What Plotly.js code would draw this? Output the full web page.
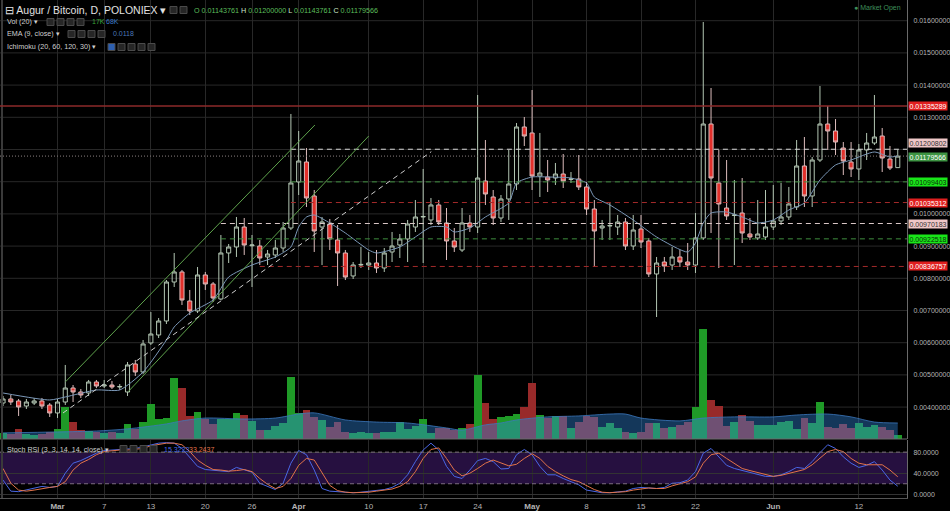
<!DOCTYPE html>
<html><head><meta charset="utf-8">
<script src="https://cdn.plot.ly/plotly-3.0.1.min.js"></script>
<style>html,body{margin:0;padding:0;background:#000;}#chart{width:950px;height:511px;}</style>
</head><body><div id="chart"></div>
<script>
// ---------------- DATA ----------------
const dates = [
'2017-02-22','2017-02-23','2017-02-24','2017-02-25','2017-02-26','2017-02-27','2017-02-28',
'2017-03-01','2017-03-02','2017-03-03','2017-03-04','2017-03-05','2017-03-06','2017-03-07','2017-03-08','2017-03-09','2017-03-10',
'2017-03-11','2017-03-12','2017-03-13','2017-03-14','2017-03-15','2017-03-16','2017-03-17','2017-03-18','2017-03-19','2017-03-20',
'2017-03-21','2017-03-22','2017-03-23','2017-03-24','2017-03-25','2017-03-26','2017-03-27','2017-03-28','2017-03-29','2017-03-30','2017-03-31',
'2017-04-01','2017-04-02','2017-04-03','2017-04-04','2017-04-05','2017-04-06','2017-04-07','2017-04-08','2017-04-09','2017-04-10',
'2017-04-11','2017-04-12','2017-04-13','2017-04-14','2017-04-15','2017-04-16','2017-04-17','2017-04-18','2017-04-19','2017-04-20',
'2017-04-21','2017-04-22','2017-04-23','2017-04-24','2017-04-25','2017-04-26','2017-04-27','2017-04-28','2017-04-29','2017-04-30',
'2017-05-01','2017-05-02','2017-05-03','2017-05-04','2017-05-05','2017-05-06','2017-05-07','2017-05-08','2017-05-09','2017-05-10',
'2017-05-11','2017-05-12','2017-05-13','2017-05-14','2017-05-15','2017-05-16','2017-05-17','2017-05-18','2017-05-19','2017-05-20',
'2017-05-21','2017-05-22','2017-05-23','2017-05-24','2017-05-25','2017-05-26','2017-05-27','2017-05-28','2017-05-29','2017-05-30','2017-05-31',
'2017-06-01','2017-06-02','2017-06-03','2017-06-04','2017-06-05','2017-06-06','2017-06-07','2017-06-08','2017-06-09','2017-06-10',
'2017-06-11','2017-06-12','2017-06-13','2017-06-14','2017-06-15','2017-06-16','2017-06-17'
];
// prices in mBTC (x 0.001 BTC)
const openM = [
4.127,4.252,4.190,4.034,4.127,4.190,4.065,
3.817,4.158,4.593,4.469,4.438,4.780,4.655,4.686,4.624,4.469,
5.339,5.090,5.991,6.239,6.674,7.885,8.196,7.295,6.985,8.103,
7.823,7.357,8.786,8.972,9.593,9.010,9.003,8.662,8.724,8.941,9.562,
10.991,11.612,10.556,9.593,9.686,9.190,8.786,8.072,8.413,8.413,
8.475,8.320,8.817,9.034,9.221,9.593,9.904,9.811,10.277,9.718,
9.159,8.879,9.718,9.593,11.022,10.525,9.873,10.463,10.929,12.699,
12.513,11.177,11.146,11.115,11.239,11.070,11.084,10.836,10.152,9.562,
9.624,9.593,9.749,9.003,9.531,9.159,8.134,8.506,8.413,8.662,
8.506,8.413,9.252,12.792,10.960,10.183,9.950,10.028,9.376,9.252,9.283,
9.593,9.780,9.904,10.214,11.488,10.556,11.674,12.792,12.575,12.047,
11.612,11.395,11.985,12.202,12.419,11.705,11.43761
];
const highM = [
4.345,4.376,4.252,4.252,4.283,4.283,4.127,
4.252,5.308,4.686,4.562,4.842,4.842,4.842,4.811,4.717,5.401,
5.463,6.084,6.954,6.767,7.947,8.786,8.258,7.637,8.351,8.196,
7.885,9.345,9.065,9.904,9.873,9.345,9.190,8.879,9.190,9.749,13.103,
12.575,12.047,10.742,9.904,9.842,9.655,8.879,8.506,8.972,8.817,
8.879,8.941,9.438,9.376,9.811,10.432,11.395,10.494,10.432,10.183,
9.562,10.183,9.966,13.693,12.295,10.742,10.587,11.985,12.823,13.009,
13.848,12.513,11.674,11.581,11.860,11.301,11.829,10.991,10.432,9.811,
10.339,9.966,9.873,9.966,9.966,9.252,8.662,8.662,8.972,8.879,
9.096,10.028,15.960,13.910,11.985,11.674,11.053,11.115,9.873,10.432,10.742,
10.898,10.960,10.836,12.295,12.388,11.767,13.972,13.351,12.947,12.233,
12.233,12.171,12.513,13.693,12.668,12.109,12.000
];
const lowM = [
4.034,4.065,3.724,3.941,4.065,3.941,3.693,
3.662,4.065,4.158,4.283,4.345,4.593,4.593,4.562,4.531,4.345,
4.966,5.028,5.929,6.146,6.581,7.730,7.171,6.860,6.922,7.637,
7.264,7.326,8.475,8.662,8.724,7.730,8.413,8.413,8.631,8.817,9.500,
10.587,10.214,8.817,8.413,8.879,7.761,7.947,7.978,8.320,8.258,
8.165,8.196,8.506,8.631,8.506,9.438,8.475,9.655,9.655,8.568,
8.817,8.817,9.438,9.407,10.277,9.655,9.749,9.811,10.742,12.109,
10.742,10.525,10.680,10.898,10.804,10.960,10.742,9.966,8.351,9.190,
9.190,9.345,8.879,8.879,8.941,8.040,6.798,8.196,8.258,8.351,
8.258,8.165,9.190,9.407,8.320,9.811,8.413,9.096,9.190,9.190,9.190,
9.500,9.655,9.811,10.121,10.214,10.214,11.612,11.985,11.829,11.208,
11.146,11.053,11.674,12.140,11.301,11.363,11.43761
];
const closeM = [
4.252,4.158,4.003,4.158,4.190,4.034,3.817,
4.158,4.593,4.469,4.376,4.780,4.655,4.686,4.624,4.640,5.308,
5.090,5.960,6.270,6.674,7.885,8.196,7.326,6.985,8.103,7.823,
7.388,8.786,8.972,9.593,9.034,9.034,8.631,8.755,8.941,9.562,10.960,
11.643,10.494,9.469,9.749,9.221,8.786,8.040,8.413,8.430,8.475,
8.320,8.786,9.003,9.221,9.686,9.904,9.920,10.277,9.749,9.159,
8.972,9.718,9.593,11.115,10.618,9.873,10.463,10.929,12.699,12.419,
11.177,11.270,11.053,11.239,11.022,11.084,10.836,10.152,9.469,9.624,
9.640,9.749,9.003,9.500,9.127,8.134,8.475,8.382,8.662,8.506,
8.413,9.252,12.792,11.115,10.308,9.935,9.966,9.407,9.283,9.376,9.593,
9.780,9.904,10.308,11.488,10.556,11.674,12.792,12.575,12.233,11.643,
11.395,11.985,12.202,12.388,11.736,11.426,11.79566
];
// volume in thousands
const volumeK = [
26,21,43,21,17,21,30,
43,136,72,38,34,30,26,30,26,64,43,72,149,85,89,259,217,98,115,85,64,85,85,111,102,77,38,38,55,68,264,
111,123,94,81,51,72,30,26,30,26,26,30,30,72,43,55,85,26,47,47,38,47,64,272,153,85,94,98,106,136,
238,102,89,98,98,47,72,98,94,51,68,47,30,26,30,68,68,47,51,60,72,136,468,166,140,55,72,102,77,60,60,
60,72,77,43,89,68,157,51,47,64,47,68,51,60,51,38,17
];
const volMaDates = ['2017-02-22','2017-03-01','2017-03-06','2017-03-10','2017-03-15','2017-03-17','2017-03-20','2017-03-25','2017-03-29','2017-04-01','2017-04-03','2017-04-07','2017-04-11','2017-04-15','2017-04-20','2017-04-22','2017-04-25','2017-04-27','2017-04-29','2017-05-03','2017-05-07','2017-05-11','2017-05-13','2017-05-15','2017-05-20','2017-05-23','2017-05-27','2017-06-01','2017-06-04','2017-06-08','2017-06-11','2017-06-14','2017-06-17'];
const volMaK = [26,30,34,43,64,77,89,85,89,106,111,81,72,68,47,38,60,68,81,94,98,106,106,89,77,89,94,94,102,106,94,72,68];
const emaDates = ['2017-02-22','2017-02-28','2017-03-02','2017-03-06','2017-03-09','2017-03-12','2017-03-15','2017-03-16','2017-03-18','2017-03-21','2017-03-23','2017-03-26','2017-03-29','2017-03-31','2017-04-01','2017-04-02','2017-04-03','2017-04-05','2017-04-07','2017-04-10','2017-04-11','2017-04-14','2017-04-16','2017-04-18','2017-04-20','2017-04-21','2017-04-23','2017-04-25','2017-04-28','2017-04-29','2017-05-01','2017-05-03','2017-05-06','2017-05-08','2017-05-09','2017-05-11','2017-05-14','2017-05-17','2017-05-21','2017-05-22','2017-05-23','2017-05-24','2017-05-26','2017-05-28','2017-05-30','2017-06-01','2017-06-03','2017-06-05','2017-06-07','2017-06-09','2017-06-11','2017-06-14','2017-06-16','2017-06-17'];
const emaM = [4.438,4.221,4.314,4.531,4.531,5.090,6.084,6.488,6.922,7.326,8.040,8.413,8.662,8.972,9.593,9.904,9.966,9.718,9.407,8.879,8.786,8.972,9.283,9.593,9.593,9.438,9.562,9.904,10.339,10.960,11.146,11.146,11.115,10.960,10.525,10.277,9.811,9.283,8.817,9.096,9.718,10.028,10.059,9.904,9.718,9.811,10.121,10.339,11.053,11.519,11.674,11.923,11.767,11.80];
const stochK = [
27,6,5,8,11,15,13,
15,40,59,64,71,78,83,84,84,85,87,90,94,97,98,97,87,71,53,47,46,45,43,51,46,42,21,15,9,21,59,
83,75,46,11,6,5,3,3,4,6,7,9,13,21,37,62,84,97,84,53,34,30,46,64,68,62,48,49,75,85,
75,53,37,37,30,24,18,8,5,3,3,5,6,11,13,12,11,13,21,22,27,43,78,87,71,55,49,45,41,37,34,
34,37,43,51,49,62,79,94,87,71,59,51,55,62,46,27,15.3223
];
const stochD = [
49,21,8,6,8,11,13,
15,24,46,59,66,75,81,83,84,84,85,87,92,95,97,97,94,81,65,55,47,46,44,45,47,43,30,19,11,15,30,
55,68,65,40,17,7,4,3,3,4,6,8,10,15,24,43,68,85,88,68,46,35,40,49,59,65,59,54,57,68,
77,68,53,43,35,28,24,16,9,4,3,4,5,8,10,12,11,11,16,20,24,33,59,75,78,68,59,49,45,41,37,
34,36,40,43,47,56,68,81,85,81,68,59,56,56,56,46,33.2437
];
const levelPrices = [0.01335289, 0.01200802, 0.01099403, 0.01035312, 0.00970183, 0.00922518, 0.00836757];
const levelStarts = [null, '2017-03-31', '2017-03-31', '2017-03-31', '2017-03-22', '2017-03-22', '2017-03-27'];
const currentPrice = 0.01179566;
const trendFrom = [['2017-03-02 01:00', 0.004789], ['2017-03-10 02:00', 0.004478], ['2017-03-01 17:00', 0.003817]];
const trendTo   = [['2017-04-03 02:00', 0.012761], ['2017-04-10 00:00', 0.012419], ['2017-04-18 01:00', 0.011932]];
const tickDates = ['2017-03-01','2017-03-07','2017-03-13','2017-03-20','2017-03-26','2017-04-01','2017-04-10','2017-04-17','2017-04-24','2017-05-01','2017-05-08','2017-05-15','2017-05-22','2017-06-01','2017-06-12'];
const tickLabels = ['<b>Mar</b>','7','13','20','26','<b>Apr</b>','10','17','24','<b>May</b>','8','15','22','<b>Jun</b>','12'];
// price labels visible on the right axis (0.011 and 0.012 are hidden behind tags in the reference)
const priceTicks = [0.004,0.005,0.006,0.007,0.008,0.009,0.010,0.013,0.014,0.015,0.016];
const priceGrid = [0.004,0.005,0.006,0.007,0.008,0.009,0.010,0.011,0.012,0.013,0.014,0.015,0.016];
const rsiTicks = [0,40,80];
const rsiBand = [20,80];

// ---------------- STYLE / LAYOUT ----------------
const toBtc = a => a.map(v => v/1000);
const W = 907, H = 498;
const px = x => x / W;
const py = y => 1 - y / H;
const XSTART = '2017-02-21 14:38', XEND = '2017-06-18 04:30';
const FONT = 'Liberation Sans, Arial, sans-serif';
const UP = '#1f9a27', DOWN = '#982a2a';
const GRID = '#282828';

const traces = [];
traces.push({
  type: 'candlestick', x: dates,
  open: toBtc(openM), high: toBtc(highM), low: toBtc(lowM), close: toBtc(closeM),
  xaxis: 'x', yaxis: 'y',
  increasing: {line: {color: '#b3c6b3', width: 1}, fillcolor: 'rgba(0,0,0,0)'},
  decreasing: {line: {color: '#dcbcbc', width: 1}, fillcolor: '#e2302b'},
  whiskerwidth: 0, showlegend: false, hoverinfo: 'skip'
});
traces.push({
  type: 'scatter', mode: 'lines', x: emaDates, y: toBtc(emaM),
  xaxis: 'x', yaxis: 'y', line: {color: '#7b98b8', width: 1, shape: 'spline', smoothing: 0.6},
  showlegend: false, hoverinfo: 'skip'
});
traces.push({
  type: 'bar', x: dates, y: volumeK, xaxis: 'x', yaxis: 'y3',
  width: 86400000, marker: {color: dates.map((d, i) => closeM[i] >= openM[i] ? UP : DOWN), line: {width: 0}},
  showlegend: false, hoverinfo: 'skip'
});
traces.push({
  type: 'scatter', mode: 'lines', x: volMaDates, y: volMaK, xaxis: 'x', yaxis: 'y3',
  fill: 'tozeroy', fillcolor: 'rgba(50,137,225,0.40)',
  line: {color: 'rgba(60,120,190,0.8)', width: 1, shape: 'spline', smoothing: 0.8},
  showlegend: false, hoverinfo: 'skip'
});
traces.push({
  type: 'scatter', mode: 'lines', x: dates, y: stochK, xaxis: 'x', yaxis: 'y2',
  line: {color: '#4a67e6', width: 1}, showlegend: false, hoverinfo: 'skip'
});
traces.push({
  type: 'scatter', mode: 'lines', x: dates, y: stochD, xaxis: 'x', yaxis: 'y2',
  line: {color: '#e2734a', width: 1}, showlegend: false, hoverinfo: 'skip'
});

const shapes = [];
// price grid lines (drawn as shapes so hidden labels keep their grid)
priceGrid.forEach(v => shapes.push({type: 'line', xref: 'paper', yref: 'y', x0: 0, x1: 1, y0: v, y1: v, line: {color: GRID, width: 1}, layer: 'below'}));
// RSI band
shapes.push({type: 'rect', xref: 'paper', yref: 'y2', x0: 0, x1: 1, y0: rsiBand[0], y1: rsiBand[1], fillcolor: '#261040', line: {width: 0}, layer: 'below'});
rsiBand.forEach(v => shapes.push({type: 'line', xref: 'paper', yref: 'y2', x0: 0, x1: 1, y0: v, y1: v, line: {color: '#7c6c80', width: 1, dash: '4px,3px'}}));
// pane separator + left border
shapes.push({type: 'line', xref: 'paper', yref: 'paper', x0: 0, x1: 1, y0: py(439), y1: py(439), line: {color: '#6a6a6a', width: 1}});
shapes.push({type: 'line', xref: 'paper', yref: 'paper', x0: px(2), x1: px(2), y0: 0, y1: 1, line: {color: '#3a3a3a', width: 2}});
// horizontal levels
const levelStyles = [
  {color: '#8c2a2a', width: 1.5, dash: 'solid'},
  {color: '#d8d8d8', width: 1, dash: '5px,4px'},
  {color: '#3f8f3f', width: 1, dash: '5px,4px'},
  {color: '#a32a2a', width: 1, dash: '5px,4px'},
  {color: '#d8c6c6', width: 1, dash: '5px,4px'},
  {color: '#3f8f3f', width: 1, dash: '5px,4px'},
  {color: '#a32a2a', width: 1, dash: '5px,4px'}
];
levelPrices.forEach((p, i) => {
  if (levelStarts[i] === null) {
    shapes.push({type: 'line', xref: 'paper', yref: 'y', x0: 0, x1: 1, y0: p, y1: p, line: levelStyles[i]});
  } else {
    shapes.push({type: 'line', xref: 'x', yref: 'y', x0: levelStarts[i], x1: XEND, y0: p, y1: p, line: levelStyles[i]});
  }
});
shapes.push({type: 'line', xref: 'paper', yref: 'y', x0: 0, x1: 1, y0: currentPrice, y1: currentPrice, line: {color: '#8a8080', width: 1, dash: '1px,2px'}});
// trend lines
const trendStyles = [
  {color: '#5ea24c', width: 1},
  {color: '#5ea24c', width: 1},
  {color: '#cfcfcf', width: 1, dash: '5px,4px'}
];
trendFrom.forEach((a, i) => shapes.push({type: 'line', xref: 'x', yref: 'y', x0: a[0], y0: a[1], x1: trendTo[i][0], y1: trendTo[i][1], line: trendStyles[i]}));
// header icon boxes
function iconRow(xs, y, first) {
  xs.forEach((x, i) => shapes.push({type: 'rect', xref: 'paper', yref: 'paper', x0: px(x), x1: px(x + 7), y0: py(y + 3.5), y1: py(y - 3.5),
    fillcolor: (first && i === 0) ? '#2d5fb0' : '#262626', line: {color: '#4a4a4a', width: 1}}));
}
iconRow([170, 180], 10, false);
iconRow([47, 57, 67, 77], 22, false);
iconRow([68, 78, 88, 98], 34, false);
iconRow([108, 118, 128, 138, 148], 47, true);
iconRow([120, 130, 140, 150], 449, false);

const annotations = [];
function txt(x, y, text, size, color) {
  annotations.push({xref: 'paper', yref: 'paper', x: px(x), y: py(y), xanchor: 'left', yanchor: 'middle', text: text, showarrow: false, font: {family: FONT, size: size, color: color}});
}
txt(3, 10, '⊟ Augur / Bitcoin, D, POLONIEX ▾', 10.5, '#e2e2e2');
txt(192, 10, 'O 0.01143761 <span style="color:#cfe8cf">H</span> 0.01200000 <span style="color:#cfe8cf">L</span> 0.01143761 <span style="color:#cfe8cf">C</span> 0.01179566', 7.2, '#5cbf5c');
txt(5, 22, 'Vol (20) ▾', 7.2, '#cfcfcf');
txt(90, 22, '17K', 7, '#3aa83a');
txt(104, 22, '68K', 7, '#3a78c8');
txt(5, 34, 'EMA (9, close) ▾', 7.2, '#cfcfcf');
txt(111, 34, '0.0118', 7, '#4a78b8');
txt(5, 47, 'Ichimoku (20, 60, 120, 30) ▾', 7.2, '#cfcfcf');
txt(852, 8, '● Market Open', 7, '#3f8f5a');
txt(5, 449, 'Stoch RSI (3, 3, 14, 14, close) ▾', 7.2, '#cfcfcf');
txt(162, 449, '15.3223', 7, '#4a67e6');
txt(187, 449, '33.2437', 7, '#e2734a');
// right-side level tags
const tagStyles = [
  {bg: '#e01f1f', fg: '#ffffff', shift: 0},
  {bg: '#efc7c7', fg: '#333333', shift: 6},
  {bg: '#19e619', fg: '#0b2e0b', shift: 0},
  {bg: '#e01f1f', fg: '#ffffff', shift: 0},
  {bg: '#efc7c7', fg: '#333333', shift: 0},
  {bg: '#19e619', fg: '#0b2e0b', shift: 0},
  {bg: '#e01f1f', fg: '#ffffff', shift: 0}
];
levelPrices.forEach((p, i) => annotations.push({
  xref: 'paper', yref: 'y', x: px(908), y: p, xanchor: 'left', yanchor: 'middle', yshift: tagStyles[i].shift,
  text: p.toFixed(8), showarrow: false, bgcolor: tagStyles[i].bg, borderpad: 0.5,
  font: {family: FONT, size: 7, color: tagStyles[i].fg}
}));
annotations.push({xref: 'paper', yref: 'y', x: px(908), y: currentPrice, xanchor: 'left', yanchor: 'middle', yshift: -1,
  text: currentPrice.toFixed(8), showarrow: false, bgcolor: '#3d9442', borderpad: 0.5, font: {family: FONT, size: 7, color: '#ffffff'}});

const layout = {
  width: 950, height: 511,
  margin: {l: 0, r: 43, t: 0, b: 13, pad: 0},
  paper_bgcolor: '#000000', plot_bgcolor: '#000000',
  font: {family: FONT, color: '#b4b4b4', size: 7},
  showlegend: false, boxgap: 0.25, bargap: 0,
  xaxis: {type: 'date', range: [XSTART, XEND], domain: [0, 1], anchor: 'y2',
    tickmode: 'array', tickvals: tickDates, ticktext: tickLabels,
    tickfont: {family: FONT, size: 8, color: '#b4b4b4'}, ticks: '',
    showgrid: true, gridcolor: GRID, gridwidth: 1,
    showline: true, linecolor: '#555555', linewidth: 1, zeroline: false,
    rangeslider: {visible: false}, fixedrange: true},
  yaxis: {domain: [py(439), 1], range: [0.003009, 0.016643], side: 'right', anchor: 'x',
    tickmode: 'array', tickvals: priceTicks, tickformat: '.8f',
    tickfont: {family: FONT, size: 7, color: '#b4b4b4'}, ticks: '', ticklabelstandoff: 4,
    showgrid: false, zeroline: false,
    showline: true, linecolor: '#6a6a6a', linewidth: 1, fixedrange: true},
  yaxis2: {domain: [0, py(440)], range: [-7, 103], side: 'right', anchor: 'x',
    tickmode: 'array', tickvals: rsiTicks, tickformat: '.4f',
    tickfont: {family: FONT, size: 7, color: '#b4b4b4'}, ticks: '', ticklabelstandoff: 4,
    showgrid: true, gridcolor: '#333333', zeroline: false,
    showline: true, linecolor: '#6a6a6a', linewidth: 1, fixedrange: true},
  yaxis3: {overlaying: 'y', range: [0, 1866], visible: false, showgrid: false, zeroline: false, fixedrange: true},
  shapes: shapes, annotations: annotations
};

Plotly.newPlot('chart', traces, layout, {displayModeBar: false, staticPlot: true});
</script>
</body></html>
